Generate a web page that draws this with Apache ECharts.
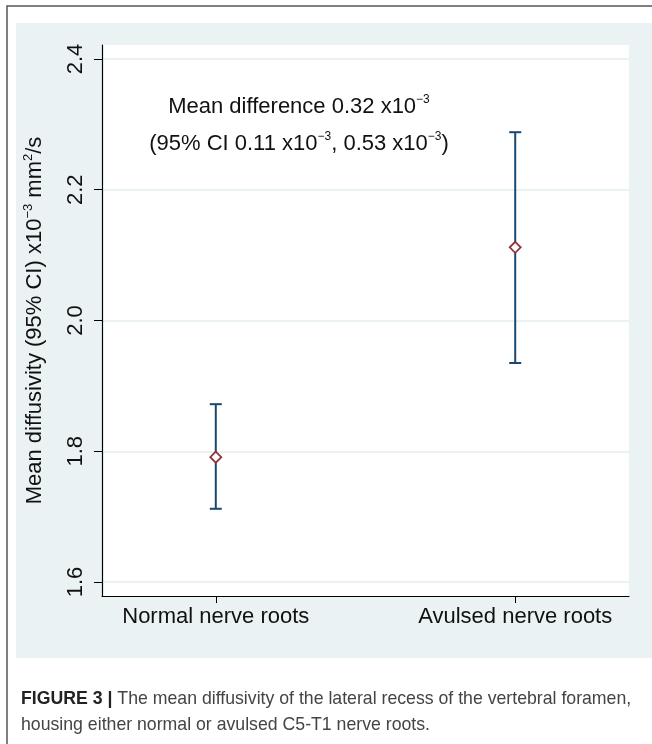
<!DOCTYPE html>
<html>
<head>
<meta charset="utf-8">
<script src="https://cdn.jsdelivr.net/npm/echarts@6/dist/echarts.min.js"></script>
<style>
html,body{margin:0;padding:0;background:#fff;}
#chart{width:652px;height:744px;}
</style>
</head>
<body>
<div id="chart"></div>
<script>
// ---- data ----
const categories = ['Normal nerve roots', 'Avulsed nerve roots'];
const means = [1.791, 2.112];
const lowerCI = [1.712, 1.935];
const upperCI = [1.872, 2.288];
const yTicks = [1.6, 1.8, 2.0, 2.2, 2.4];
const xPositions = [1, 2];

const FONT = "'Liberation Sans', Arial, Helvetica, sans-serif";
const NAVY = '#1a476f';
const MAROON = '#90353b';
const PANEL = '#eaf2f3';

const errData = xPositions.map((x, i) => [x, lowerCI[i], upperCI[i]]);
const meanData = xPositions.map((x, i) => [x, means[i]]);

const chart = echarts.init(document.getElementById('chart'), null, {renderer: 'canvas'});

const option = {
  backgroundColor: '#ffffff',
  animation: false,
  graphic: [
    // figure card border (left and top)
    {type: 'polyline', z: -10, shape: {points: [[7, 744], [7, 6], [652, 6]]},
     style: {stroke: '#555', lineWidth: 1.5, fill: null}},
    // Stata-like panel background
    {type: 'rect', z: -10, shape: {x: 16, y: 23, width: 636, height: 635},
     style: {fill: PANEL}},
    // annotation
    {type: 'text', z: 10, x: 299, y: 107,
     style: {
       text: '{n|Mean difference 0.32 x10}{s|−3}',
       align: 'center', verticalAlign: 'middle',
       rich: {
         n: {fontSize: 22, fontFamily: FONT, fill: '#111', lineHeight: 26},
         s: {fontSize: 12, fontFamily: FONT, fill: '#111', verticalAlign: 'top', lineHeight: 14}
       }
     }},
    {type: 'text', z: 10, x: 299, y: 144,
     style: {
       text: '{n|(95% CI 0.11 x10}{s|−3}{n|, 0.53 x10}{s|−3}{n|)}',
       align: 'center', verticalAlign: 'middle',
       rich: {
         n: {fontSize: 22, fontFamily: FONT, fill: '#111', lineHeight: 26},
         s: {fontSize: 12, fontFamily: FONT, fill: '#111', verticalAlign: 'top', lineHeight: 14}
       }
     }},
    // caption
    {type: 'text', z: 10, x: 21, y: 699,
     style: {
       text: '{b|FIGURE 3 |}{n| The mean diffusivity of the lateral recess of the vertebral foramen,}',
       align: 'left', verticalAlign: 'middle',
       rich: {
         b: {fontSize: 17.7, fontWeight: 'bold', fontFamily: FONT, fill: '#222'},
         n: {fontSize: 17.7, fontFamily: FONT, fill: '#444'}
       }
     }},
    {type: 'text', z: 10, x: 21, y: 725,
     style: {
       text: 'housing either normal or avulsed C5-T1 nerve roots.',
       align: 'left', verticalAlign: 'middle',
       fontSize: 17.7, fontFamily: FONT, fill: '#444'
     }}
  ],
  grid: {
    left: 102, right: 23, top: 45, bottom: 148,
    show: true, backgroundColor: '#ffffff', borderWidth: 0
  },
  xAxis: {
    type: 'value',
    min: 0.62, max: 2.38,
    axisLine: {show: true, onZero: false, lineStyle: {color: '#000', width: 1.2}},
    axisTick: {show: true, customValues: xPositions, length: 7, lineStyle: {color: '#000', width: 1}},
    axisLabel: {
      show: true, customValues: xPositions, margin: 10,
      fontSize: 22, fontFamily: FONT, color: '#111',
      formatter: v => categories[Math.round(v) - 1] || ''
    },
    splitLine: {show: false}
  },
  yAxis: {
    type: 'value',
    min: 1.5786, max: 2.4214,
    name: '{n|Mean diffusivity (95% CI) x10}{s|−3}{n| mm}{s|2}{n|/s}',
    nameLocation: 'middle',
    nameGap: 54,
    nameTextStyle: {
      rich: {
        n: {fontSize: 22, fontFamily: FONT, color: '#111', lineHeight: 26},
        s: {fontSize: 13, fontFamily: FONT, color: '#111', verticalAlign: 'top', lineHeight: 14}
      }
    },
    axisLine: {show: true, onZero: false, lineStyle: {color: '#000', width: 1.2}},
    axisTick: {show: true, customValues: yTicks, length: 8, lineStyle: {color: '#000', width: 1}},
    axisLabel: {
      show: true, customValues: yTicks, rotate: 90, margin: 15,
      fontSize: 22, fontFamily: FONT, color: '#111',
      formatter: v => v.toFixed(1)
    },
    splitLine: {show: true, customValues: yTicks, lineStyle: {color: PANEL, width: 2}}
  },
  series: [
    {
      type: 'custom',
      name: 'CI',
      data: errData,
      encode: {x: 0, y: [1, 2]},
      z: 2,
      renderItem: function (params, api) {
        const x = api.value(0);
        const lo = api.coord([x, api.value(1)]);
        const hi = api.coord([x, api.value(2)]);
        const half = 6;
        const st = {stroke: NAVY, lineWidth: 2, fill: null};
        return {
          type: 'group',
          children: [
            {type: 'line', shape: {x1: lo[0], y1: lo[1], x2: hi[0], y2: hi[1]}, style: st},
            {type: 'line', shape: {x1: lo[0] - half, y1: lo[1], x2: lo[0] + half, y2: lo[1]}, style: st},
            {type: 'line', shape: {x1: hi[0] - half, y1: hi[1], x2: hi[0] + half, y2: hi[1]}, style: st}
          ]
        };
      }
    },
    {
      type: 'scatter',
      name: 'Mean',
      data: meanData,
      symbol: 'diamond',
      symbolSize: [11, 11],
      z: 3,
      itemStyle: {color: '#ffffff', borderColor: MAROON, borderWidth: 1.8, opacity: 1}
    }
  ]
};
chart.setOption(option);
</script>
</body>
</html>
